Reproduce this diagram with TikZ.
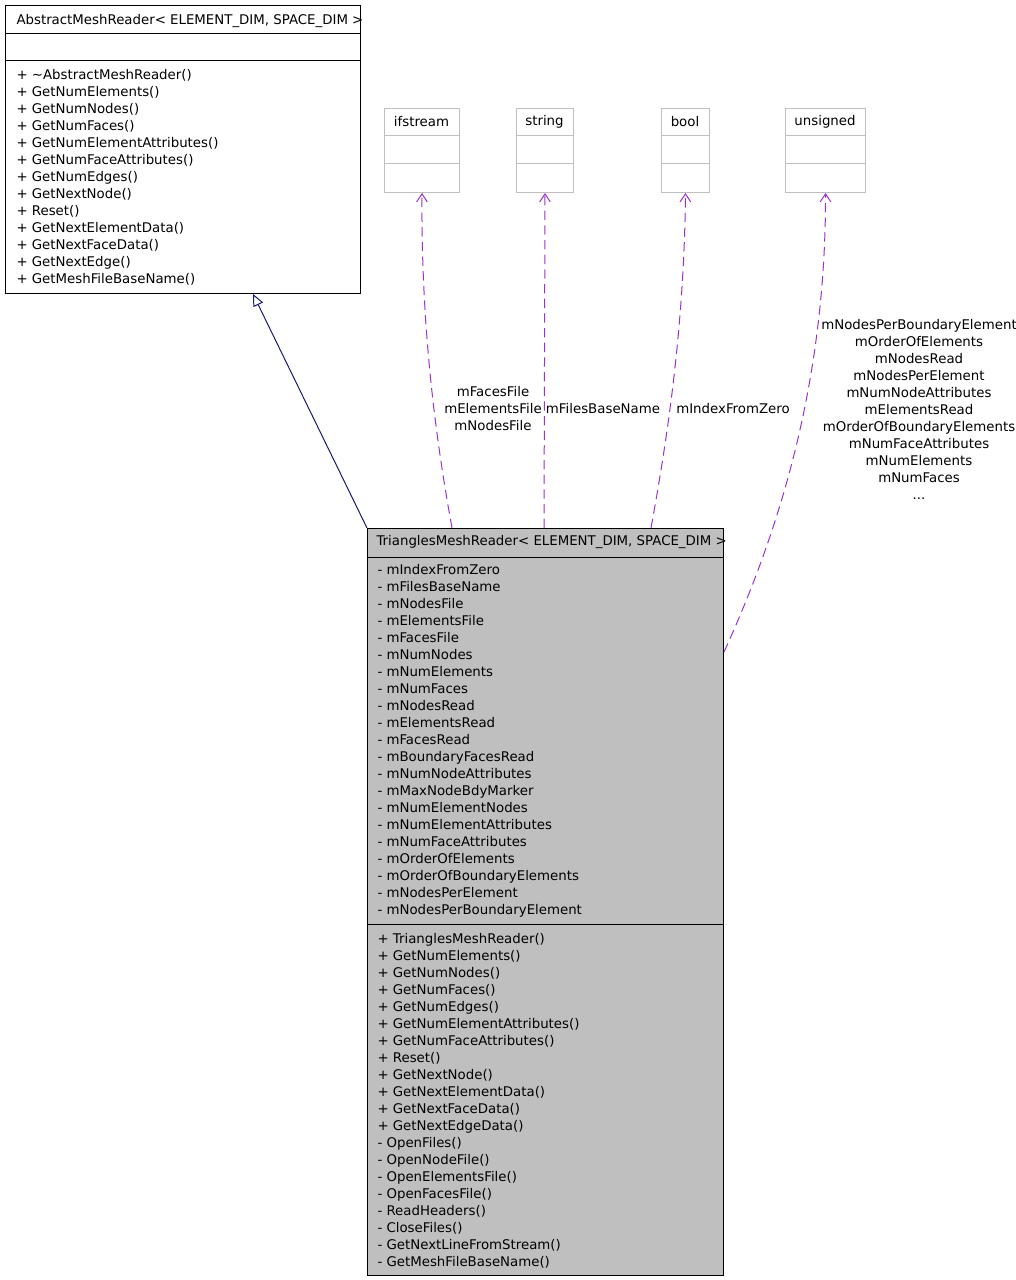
\documentclass[tikz,border=0pt]{standalone}
\usepackage{fontspec}
\setmainfont{DejaVu Sans}
\usetikzlibrary{arrows.meta,calc}
\definecolor{depcol}{HTML}{9A32CD}
\definecolor{inhcol}{HTML}{191970}
\definecolor{boxgray}{HTML}{BFBFBF}
\begin{document}
\begin{tikzpicture}[
    x=0.75pt, y=-0.75pt, line width=0.75pt,
    font=\fontsize{10}{12.75}\selectfont,
    cls/.style={rectangle, draw=black, anchor=north west, inner sep=0pt},
    extcls/.style={rectangle, draw=boxgray, anchor=north west, inner sep=0pt},
    members/.style={anchor=north west, align=left, inner sep=0pt},
    title/.style={inner sep=0pt},
    lbl/.style={align=center, inner sep=0pt},
    dep/.style={draw=depcol, dashed, dash pattern=on 7pt off 4pt, -{Straight Barb[length=6pt, width=8pt]}},
    inherit/.style={draw=inhcol, -{Triangle[open, length=9pt, width=8pt, fill=white]}}
]
\useasboundingbox (0,0) rectangle (1016,1280);

% --- Nodes ---
% Base class
\node (amr) at (5,5) [cls, minimum width=266.25pt, minimum height=216pt] {};
\draw (5,34) -- (360,34);
\draw (5,61) -- (360,61);
\node (amr-t) at (16,21.5) [title, anchor=west] {AbstractMeshReader< ELEMENT\_DIM, SPACE\_DIM >};
\node (amr-m) at (16,68.5) [members] {+ \textasciitilde AbstractMeshReader()\\ + GetNumElements()\\ + GetNumNodes()\\ + GetNumFaces()\\ + GetNumElementAttributes()\\ + GetNumFaceAttributes()\\ + GetNumEdges()\\ + GetNextNode()\\ + Reset()\\ + GetNextElementData()\\ + GetNextFaceData()\\ + GetNextEdge()\\ + GetMeshFileBaseName()};

% Member types
\node (ifs) at (384,108) [extcls, minimum width=56.25pt, minimum height=63pt] {};
\draw[boxgray] (384,136) -- (459,136) (384,164) -- (459,164);
\node at (421.5,122) [title] {ifstream};

\node (str) at (516,108) [extcls, minimum width=42.75pt, minimum height=63pt] {};
\draw[boxgray] (516,136) -- (573,136) (516,164) -- (573,164);
\node at (544.5,122) [title] {string};

\node (bool) at (661,108) [extcls, minimum width=36pt, minimum height=63pt] {};
\draw[boxgray] (661,136) -- (709,136) (661,164) -- (709,164);
\node at (685,122) [title] {bool};

\node (uns) at (785,108) [extcls, minimum width=60pt, minimum height=63pt] {};
\draw[boxgray] (785,136) -- (865,136) (785,164) -- (865,164);
\node at (825,122) [title] {unsigned};

% Derived class
\node (trm) at (367,528) [cls, fill=boxgray, minimum width=267pt, minimum height=560.25pt] {};
\draw (367,557) -- (723,557);
\draw (367,924) -- (723,924);
\node (trm-t) at (376,542.5) [title, anchor=west] {TrianglesMeshReader< ELEMENT\_DIM, SPACE\_DIM >};
\node (trm-a) at (377,563.5) [members] {- mIndexFromZero\\ - mFilesBaseName\\ - mNodesFile\\ - mElementsFile\\ - mFacesFile\\ - mNumNodes\\ - mNumElements\\ - mNumFaces\\ - mNodesRead\\ - mElementsRead\\ - mFacesRead\\ - mBoundaryFacesRead\\ - mNumNodeAttributes\\ - mMaxNodeBdyMarker\\ - mNumElementNodes\\ - mNumElementAttributes\\ - mNumFaceAttributes\\ - mOrderOfElements\\ - mOrderOfBoundaryElements\\ - mNodesPerElement\\ - mNodesPerBoundaryElement};
\node (trm-m) at (377,932.5) [members] {+ TrianglesMeshReader()\\ + GetNumElements()\\ + GetNumNodes()\\ + GetNumFaces()\\ + GetNumEdges()\\ + GetNumElementAttributes()\\ + GetNumFaceAttributes()\\ + Reset()\\ + GetNextNode()\\ + GetNextElementData()\\ + GetNextFaceData()\\ + GetNextEdgeData()\\ - OpenFiles()\\ - OpenNodeFile()\\ - OpenElementsFile()\\ - OpenFacesFile()\\ - ReadHeaders()\\ - CloseFiles()\\ - GetNextLineFromStream()\\ - GetMeshFileBaseName()};

% Edge labels
\node (l-ifs) at (493,409) [lbl] {mFacesFile\\ mElementsFile\\ mNodesFile};
\node (l-str) at (603,409) [lbl] {mFilesBaseName};
\node (l-bool) at (733,409) [lbl] {mIndexFromZero};
\node (l-uns) at (919,409) [lbl] {mNodesPerBoundaryElement\\ mOrderOfElements\\ mNodesRead\\ mNodesPerElement\\ mNumNodeAttributes\\ mElementsRead\\ mOrderOfBoundaryElements\\ mNumFaceAttributes\\ mNumElements\\ mNumFaces\\ ...};

% --- Edges ---
\draw [inherit] (trm.north west) -- (253,294);
\draw [dep] ($(trm.north west)+(85,0)$) .. controls (436,440) and (421,330) .. (ifs.south);
\draw [dep] ($(trm.north west)+(177,0)$) -- (str.south);
\draw [dep] ($(trm.north west)+(284,0)$) .. controls (667,440) and (684,330) .. (bool.south);
\draw [dep] ($(trm.north east)+(0,124)$) .. controls (775,540) and (826,390) .. (uns.south);

\end{tikzpicture}
\end{document}
